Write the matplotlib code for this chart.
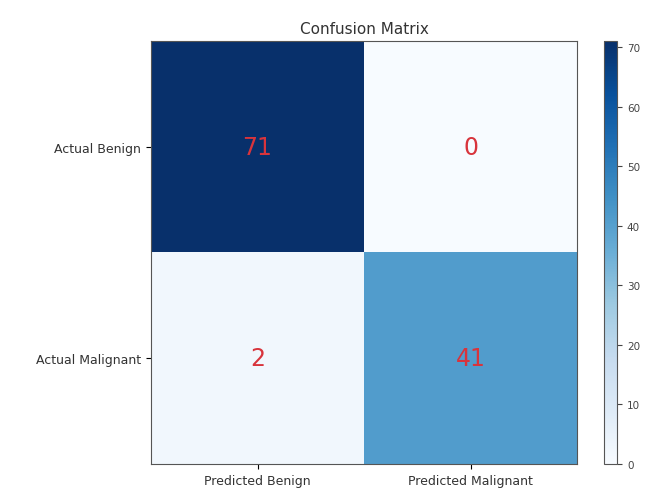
import numpy as np
import matplotlib
matplotlib.use('Agg')
import matplotlib.pyplot as plt

row_labels = ['Actual Benign', 'Actual Malignant']
col_labels = ['Predicted Benign', 'Predicted Malignant']
counts = np.array([[71, 0],
                   [2, 41]])

fig = plt.figure(figsize=(6.58, 4.89), dpi=100)
ax = fig.add_axes([0.2295, 0.049, 0.6474, 0.865])
cax = fig.add_axes([0.918, 0.049, 0.020, 0.865])

im = ax.imshow(counts, cmap='Blues', vmin=0, vmax=counts.max(), aspect='auto')
cbar = fig.colorbar(im, cax=cax)
cbar.set_ticks(range(0, 71, 10))
cbar.ax.tick_params(labelsize=7.5, colors='#444444')

ax.set_title('Confusion Matrix', fontsize=11, color='#333333')
ax.set_xticks(range(len(col_labels)))
ax.set_xticklabels(col_labels, fontsize=9, color='#333333')
ax.set_yticks(range(len(row_labels)))
ax.set_yticklabels(row_labels, fontsize=9, color='#333333')

for i in range(counts.shape[0]):
    for j in range(counts.shape[1]):
        ax.text(j, i, str(counts[i, j]), ha='center', va='center',
                fontsize=17, color='#d8343c')

for spine in list(ax.spines.values()) + list(cax.spines.values()):
    spine.set_edgecolor('#555555')

fig.savefig('out.png', dpi=100)
